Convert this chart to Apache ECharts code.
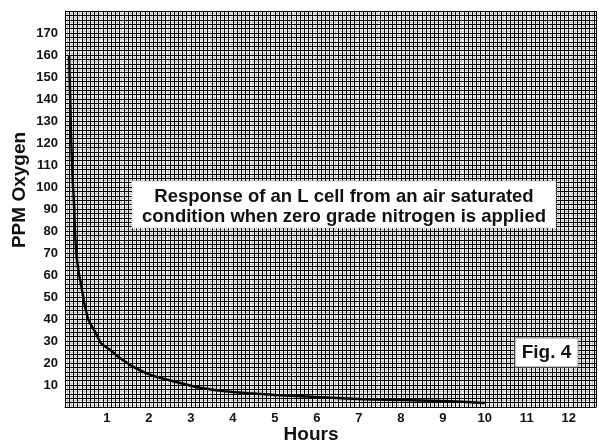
<!DOCTYPE html>
<html>
<head>
<meta charset="utf-8">
<script src="https://cdn.jsdelivr.net/npm/echarts@6/dist/echarts.min.js"></script>
<style>
  html, body { margin: 0; padding: 0; background: #fff; }
  #chart { width: 599px; height: 441px; }
</style>
</head>
<body>
<div id="chart"></div>
<script>
// response curve
const hours = [0.1, 0.11, 0.13, 0.15, 0.18, 0.21, 0.26, 0.32, 0.38, 0.45, 0.5, 0.55, 0.75, 0.86, 1.07, 1.26, 1.65, 2.05, 2.46, 3.25, 4, 5, 6, 7, 8, 9, 10]
const ppm = [160, 150, 135, 120, 105, 94, 72, 62, 56, 48, 44, 40, 33, 29, 26, 23, 18, 14.5, 12.3, 8.6, 6.8, 5.5, 4.5, 3.6, 3.2, 2.7, 1.8]

const xTicks = [1, 2, 3, 4, 5, 6, 7, 8, 9, 10, 11, 12]
const yTicks = [10, 20, 30, 40, 50, 60, 70, 80, 90, 100, 110, 120, 130, 140, 150, 160, 170]

const xMax = 12.65
const yMax = 180

const font = 'Liberation Sans, Arial, sans-serif'
const dark = '#000'
const grey = '#cccccc'

const chart = echarts.init(document.getElementById('chart'))

const tickLabel = list => v => (list.includes(Math.round(v * 100) / 100) ? String(v) : '')

// plain grid-only axis (graph paper lines)
const paper = (max, step, color, z) => ({
  type: 'value', min: 0, max: max, interval: step, z: z,
  axisLine: { show: false }, axisTick: { show: false }, axisLabel: { show: false },
  splitLine: { show: true, lineStyle: { color: color, width: 1 } }
})

chart.setOption({
  animation: false,
  backgroundColor: '#fff',
  grid: { left: 65, right: 0, top: 11, bottom: 34 },
  xAxis: [
    {
      type: 'value', min: 0, max: xMax, interval: 1, z: 3,
      axisLine: { show: true, lineStyle: { color: dark, width: 1 } },
      axisTick: { show: false },
      axisLabel: { formatter: tickLabel(xTicks), color: '#111', fontWeight: 'bold', fontSize: 13, fontFamily: font, margin: 5 },
      splitLine: { show: false }
    },
    paper(xMax, 0.05, grey, 1),
    paper(xMax, 0.1, dark, 2)
  ],
  yAxis: [
    {
      type: 'value', min: 0, max: yMax, interval: 10, z: 3,
      axisLine: { show: true, lineStyle: { color: dark, width: 1 } },
      axisTick: { show: false },
      axisLabel: { formatter: tickLabel(yTicks), color: '#111', fontWeight: 'bold', fontSize: 13, fontFamily: font, margin: 7 },
      splitLine: { show: false }
    },
    paper(yMax, 1, grey, 1),
    paper(yMax, 2, dark, 2)
  ],
  series: [{
    type: 'line',
    data: hours.map((h, i) => [h, ppm[i]]),
    smooth: 0.3,
    symbol: 'none',
    z: 5,
    lineStyle: { color: '#000', width: 2.5 }
  }],
  graphic: [
    {
      type: 'text', x: 20, y: 190, rotation: Math.PI / 2,
      style: { text: 'PPM Oxygen', fill: '#111', font: 'bold 19px ' + font, align: 'center', verticalAlign: 'middle' }
    },
    {
      type: 'text', x: 311, y: 435,
      style: { text: 'Hours', fill: '#111', font: 'bold 19px ' + font, align: 'center', verticalAlign: 'middle' }
    },
    {
      type: 'rect', z: 10,
      shape: { x: 132, y: 181, width: 424, height: 47 },
      style: { fill: '#fff', stroke: '#bbb', lineWidth: 1, lineDash: [1, 1] }
    },
    {
      type: 'text', z: 11, x: 344, y: 207,
      style: {
        text: 'Response of an L cell from an air saturated\ncondition when zero grade nitrogen is applied',
        fill: '#111', font: 'bold 18.5px ' + font, align: 'center', verticalAlign: 'middle', lineHeight: 20
      }
    },
    {
      type: 'rect', z: 10,
      shape: { x: 515, y: 338, width: 63, height: 29 },
      style: { fill: '#fff', stroke: '#888', lineWidth: 1 }
    },
    {
      type: 'text', z: 11, x: 546.5, y: 353,
      style: { text: 'Fig. 4', fill: '#111', font: 'bold 19px ' + font, align: 'center', verticalAlign: 'middle' }
    }
  ]
})
</script>
</body>
</html>
